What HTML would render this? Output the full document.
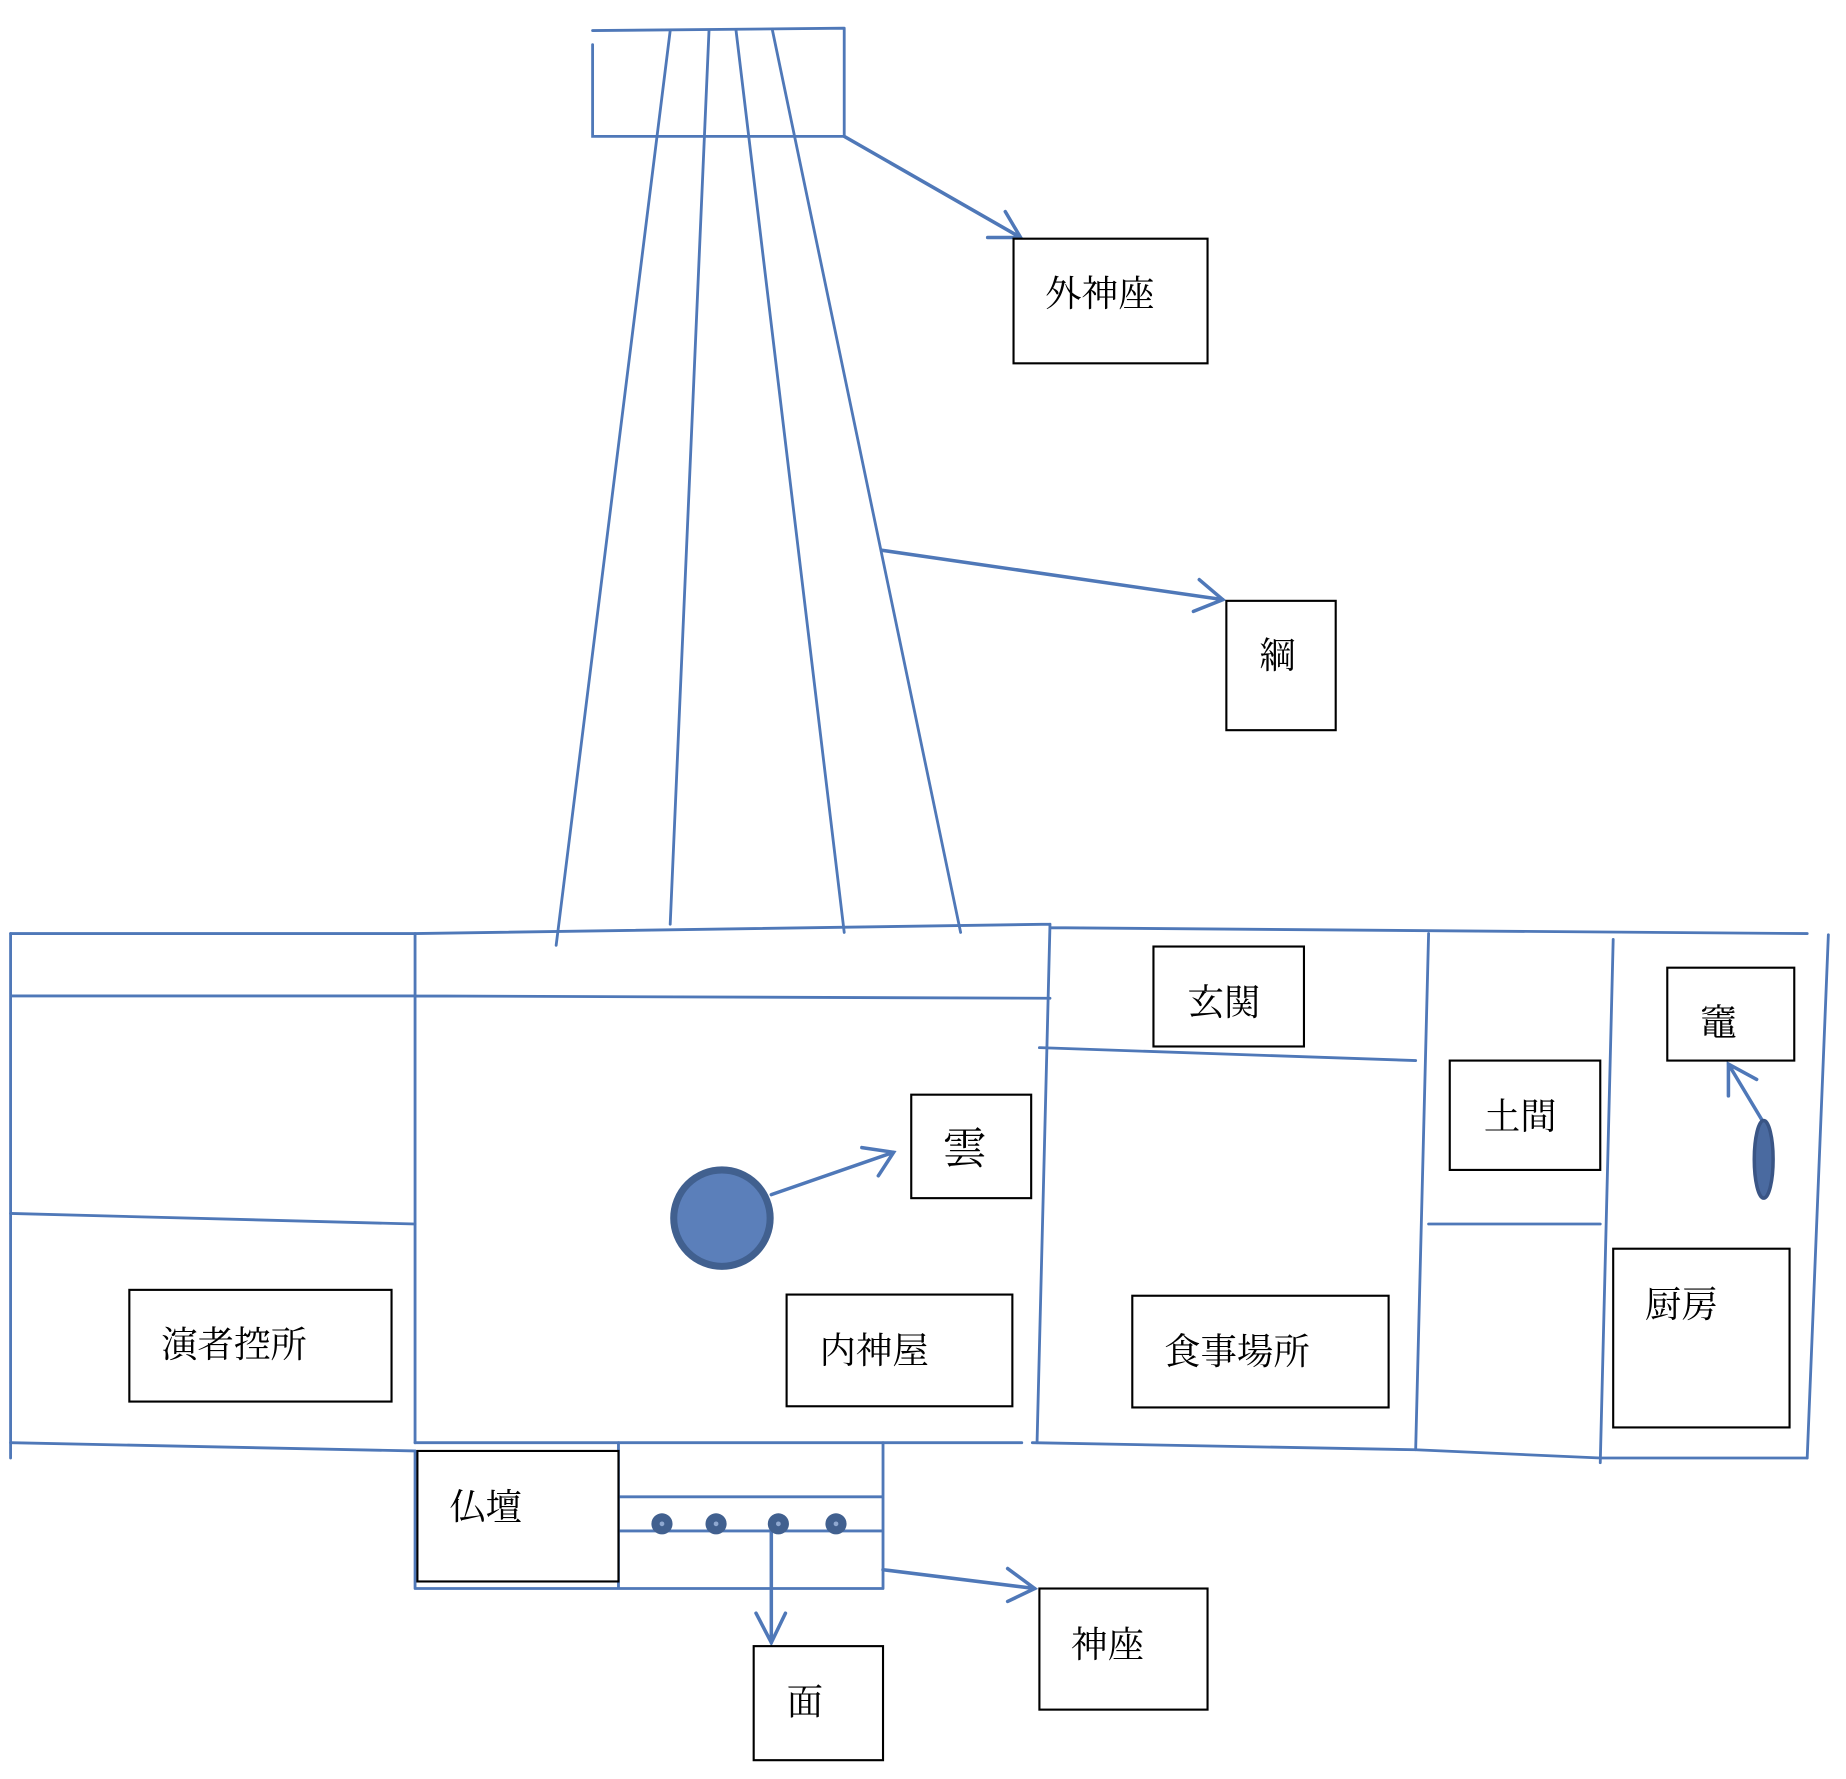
<!DOCTYPE html>
<html><head><meta charset="utf-8"><style>
html,body{margin:0;padding:0;background:#fff;}
svg{display:block;}
text{font-family:"Liberation Serif","Noto Serif CJK JP","Noto Serif CJK SC",serif;font-size:31px;fill:#000;dominant-baseline:central;}
</style></head><body>
<svg width="1846" height="1779" viewBox="0 0 1570 1513" preserveAspectRatio="none" xmlns="http://www.w3.org/2000/svg">
<g stroke="#4f78b8" stroke-width="2.4" fill="none" stroke-linecap="round">
<path d="M504,26 L718,24 M504,38 L504,116 L718,116 M718,24 L718,116"/>
<path d="M570,26 L473,804 M603,26 L570,786 M626,26 L718,793 M657,26 L817,793"/>
<path d="M718,116 L868,202 M840,202 L868,202 L855,180" stroke-width="3"/>
<path d="M750,468 L1040,510 M1015,520 L1040,510 L1020,493" stroke-width="3"/>
<path d="M9,794 L353,794 L893,786 M893,786 L882,1227 M893,789 L1537,794 M1555,795 L1537,1240"/>
<path d="M9,847 L353,847 L893,849 M9,794 L9,1240 M353,794 L353,1227"/>
<path d="M9,1032 L353,1041 M9,1227 L353,1234 M353,1227 L869,1227"/>
<path d="M878,1227 L1204,1233 L1361,1240 L1537,1240 M884,891 L1204,902"/>
<path d="M1215,794 L1204,1233 M1372,799 L1361,1244 M1215,1041 L1361,1041"/>
<path d="M656,1016 L760,980 M733,976 L760,980 L747,1000" stroke-width="3"/>
<path d="M1500,955 L1470,905 M1470,932 L1470,905 L1494,918" stroke-width="3"/>
<path d="M526,1227 L526,1351 M751,1227 L751,1351 M353,1351 L751,1351 M526,1273 L751,1273 M526,1302 L751,1302 M353,1234 L353,1351"/>
<path d="M656,1302 L656,1397 M643,1372 L656,1397 L668,1372" stroke-width="3"/>
<path d="M751,1335 L880,1351 M857,1334 L880,1351 L857,1362" stroke-width="3"/>
</g>
<circle cx="614" cy="1036" r="41" fill="#5b7fba" stroke="#41608f" stroke-width="6"/>
<ellipse cx="1500" cy="986" rx="8" ry="33" fill="#4a6aa0" stroke="#3a5585" stroke-width="3"/>
<g fill="#41608f">
<circle cx="563" cy="1296" r="9"/><circle cx="609" cy="1296" r="9"/><circle cx="662" cy="1296" r="9"/><circle cx="711" cy="1296" r="9"/>
</g>
<g fill="#8fa8d0">
<circle cx="563" cy="1296" r="2"/><circle cx="609" cy="1296" r="2"/><circle cx="662" cy="1296" r="2"/><circle cx="711" cy="1296" r="2"/>
</g>
<g stroke="#000" stroke-width="1.8" fill="#fff">
<rect x="862" y="203" width="165" height="106"/>
<rect x="1043" y="511" width="93" height="110"/>
<rect x="775" y="931" width="102" height="88"/>
<rect x="981" y="805" width="128" height="85"/>
<rect x="1418" y="823" width="108" height="79"/>
<rect x="1233" y="902" width="128" height="93"/>
<rect x="1372" y="1062" width="150" height="152"/>
<rect x="110" y="1097" width="223" height="95"/>
<rect x="669" y="1101" width="192" height="95"/>
<rect x="963" y="1102" width="218" height="95"/>
<rect x="355" y="1234" width="171" height="111"/>
<rect x="641" y="1400" width="110" height="97"/>
<rect x="884" y="1351" width="143" height="103"/>
</g>
<text x="889" y="250">外神座</text>
<text x="1071" y="558">綱</text>
<text x="802" y="978" style="font-size:37px">雲</text>
<text x="1010" y="853">玄関</text>
<text x="1446" y="870">竈</text>
<text x="1262" y="950">土間</text>
<text x="1399" y="1110">厨房</text>
<text x="137" y="1144">演者控所</text>
<text x="697" y="1149">内神屋</text>
<text x="990" y="1150">食事場所</text>
<text x="382" y="1282">仏壇</text>
<text x="669" y="1448">面</text>
<text x="911" y="1399">神座</text>
</svg>
</body></html>
